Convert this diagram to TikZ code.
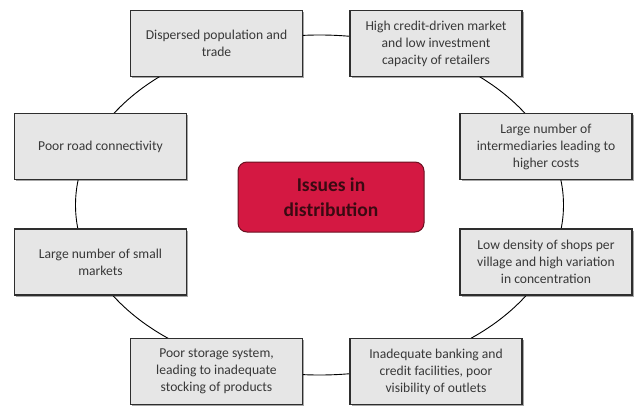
\documentclass[tikz,border=0pt]{standalone}
\usepackage{fontspec}
\setmainfont{Carlito}
\usetikzlibrary{shadows}
\definecolor{boxfill}{HTML}{E6E6E6}
\definecolor{boxline}{HTML}{2E2E2E}
\definecolor{boxtext}{HTML}{383838}
\definecolor{hubfill}{HTML}{D41842}
\definecolor{hubline}{HTML}{6A1020}
\definecolor{hubtext}{HTML}{3A0A12}
\begin{document}
\begin{tikzpicture}[x=1pt,y=-1pt,
  issue/.style={draw=boxline, line width=1.4pt, fill=boxfill, minimum width=172pt, minimum height=66pt,
    align=center, text=boxtext, font=\fontsize{13.6}{17}\selectfont, inner sep=2pt,
    drop shadow={shadow xshift=1.5pt, shadow yshift=-1.5pt, opacity=0.35, fill=black}},
  hub/.style={draw=hubline, line width=1pt, fill=hubfill, rounded corners=9pt, minimum width=186pt, minimum height=70pt,
    align=center, text=hubtext, font=\fontsize{19.5}{25}\selectfont\bfseries},
  ring/.style={draw=black, line width=0.9pt}]
\useasboundingbox (0,0) rectangle (635,407);
\coordinate (c) at (319.5,205);
\draw[ring] (c) ellipse [x radius=244, y radius=170];
\node[issue] (n1) at (216.5,43.5) {Dispersed population and\\trade};
\node[issue] (n2) at (436,43.5) {High credit-driven market\\and low investment\\capacity of retailers};
\node[issue] (n3) at (546,146.5) {Large number of\\intermediaries leading to\\higher costs};
\node[issue] (n4) at (100.5,146.5) {Poor road connectivity};
\node[issue] (n5) at (100.5,262) {Large number of small\\markets};
\node[issue] (n6) at (546,262) {Low density of shops per\\village and high variation\\in concentration};
\node[issue] (n7) at (216.5,371.5) {Poor storage system,\\leading to inadequate\\stocking of products};
\node[issue] (n8) at (436,371.5) {Inadequate banking and\\credit facilities, poor\\visibility of outlets};
\node[hub] (hub) at (331,197) {Issues in\\distribution};
\end{tikzpicture}
\end{document}
